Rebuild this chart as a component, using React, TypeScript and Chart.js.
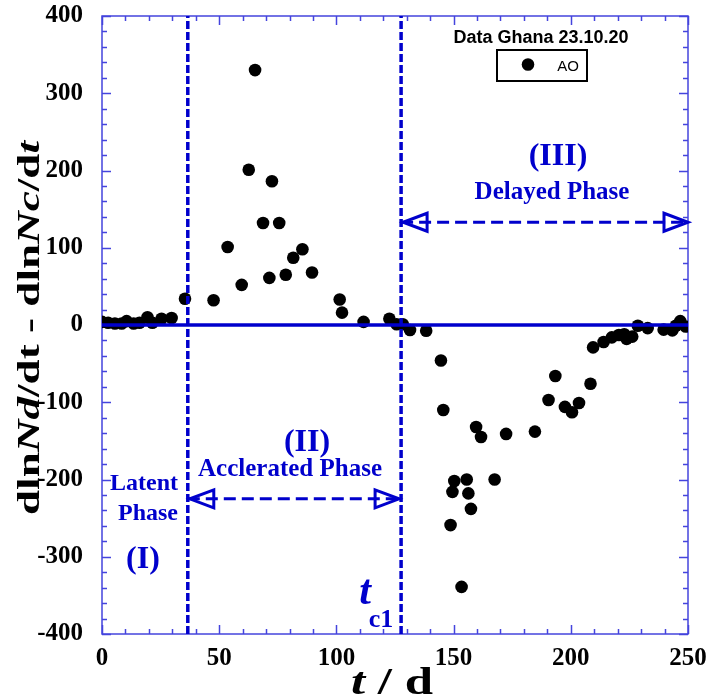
import React, { useEffect, useRef } from "react";
import { Chart, registerables } from "chart.js";

Chart.register(...registerables);

// ---- data ----
const tDays = [
  0, 2.6, 5.5, 8.4, 10.5, 13.5, 16, 19.4, 21.5, 25.4, 29.7, 35.4, 47.6, 53.6, 59.6,
  62.6, 65.3, 68.7, 71.4, 72.5, 75.6, 78.4, 81.6, 85.5, 89.6, 101.4, 102.4, 111.6,
  122.6, 125.7, 128.3, 131.4, 138.3, 144.6, 145.6, 148.7, 149.5, 150.3, 153.4, 155.6,
  156.3, 157.4, 159.6, 161.7, 167.5, 172.4, 184.7, 190.5, 193.4, 197.5, 200.5, 203.5,
  208.4, 209.5, 214.0, 217.5, 220.5, 222.8, 223.8, 226.2, 228.6, 232.8, 239.6, 243.3,
  244.8, 246.7, 249,
];
const aoValues = [
  4, 3, 2, 2, 5, 2, 3, 10, 3, 8, 9, 34, 32, 101, 52,
  201, 330, 132, 61, 186, 132, 65, 87, 98, 68, 33, 16, 4,
  8, 1, 1, -6.5, -7.5, -46, -110, -259, -216, -202, -339, -200,
  -218, -238, -132, -145, -200, -141, -138, -97, -66, -106, -113, -101,
  -76, -29, -22, -16, -13, -12, -18, -15, -1, -4, -6, -7,
  -1, 5, -2,
];
const seriesLabel = "AO";
const legendTitle = "Data Ghana 23.10.20";

const xMin = 0;
const xMax = 250;
const xStep = 50;
const xMinorStep = 10;
const yMin = -400;
const yMax = 400;
const yStep = 100;
const yMinorStep = 20;

const tLatentEnd = 36.6; // end of latent phase
const tc1 = 127.6; // t_c1
const arrowIIy = -225;
const arrowIIIy = 133;

// ---- styles ----
const BLUE = "#0000cc";
const AXIS = "#4444dd";
const SERIF = '"Liberation Serif", "Times New Roman", serif';
const SANS = '"Liberation Sans", Arial, sans-serif';

type Seg = [string, string];

function richWidth(ctx: CanvasRenderingContext2D, segs: Seg[]) {
  let total = 0;
  for (const [text, font] of segs) {
    ctx.font = font;
    total += ctx.measureText(text).width;
  }
  return total;
}

function drawRich(ctx: CanvasRenderingContext2D, segs: Seg[], x: number, y: number) {
  const total = richWidth(ctx, segs);
  let cx = x - total / 2;
  ctx.textAlign = "left";
  for (const [text, font] of segs) {
    ctx.font = font;
    ctx.fillText(text, cx, y);
    cx += ctx.measureText(text).width;
  }
}

function drawHead(ctx: CanvasRenderingContext2D, tipX: number, tipY: number, dir: number) {
  const L = 24;
  const H = 9;
  ctx.beginPath();
  ctx.moveTo(tipX + dir * L, tipY - H);
  ctx.lineTo(tipX, tipY);
  ctx.lineTo(tipX + dir * L, tipY + H);
  ctx.closePath();
  ctx.stroke();
}

const decor = {
  id: "decor",
  beforeDatasetsDraw(chart: any) {
    const { ctx, chartArea: a, scales } = chart;
    const x = scales.x;
    const y = scales.y;
    ctx.save();
    ctx.strokeStyle = AXIS;
    ctx.lineWidth = 1.5;
    ctx.beginPath();
    for (let v = xMin; v <= xMax; v += xMinorStep) {
      const px = Math.round(x.getPixelForValue(v)) + 0.5;
      const len = v % xStep === 0 ? 9 : 5;
      ctx.moveTo(px, a.bottom);
      ctx.lineTo(px, a.bottom - len);
      ctx.moveTo(px, a.top);
      ctx.lineTo(px, a.top + len);
    }
    for (let v = yMin; v <= yMax; v += yMinorStep) {
      const py = Math.round(y.getPixelForValue(v)) + 0.5;
      const len = v % yStep === 0 ? 9 : 5;
      ctx.moveTo(a.left, py);
      ctx.lineTo(a.left + len, py);
      ctx.moveTo(a.right, py);
      ctx.lineTo(a.right - len, py);
    }
    ctx.stroke();
    ctx.strokeRect(a.left, a.top, a.right - a.left, a.bottom - a.top);
    ctx.restore();
  },
  afterDraw(chart: any) {
    const { ctx, scales } = chart;
    const x = scales.x;
    const y = scales.y;
    ctx.save();

    // arrow heads
    ctx.strokeStyle = BLUE;
    ctx.lineWidth = 3;
    ctx.setLineDash([]);
    const yII = y.getPixelForValue(arrowIIy);
    drawHead(ctx, x.getPixelForValue(tLatentEnd) + 2, yII, 1);
    drawHead(ctx, x.getPixelForValue(tc1) - 2, yII, -1);
    const yIII = y.getPixelForValue(arrowIIIy);
    drawHead(ctx, x.getPixelForValue(tc1) + 2, yIII, 1);
    drawHead(ctx, x.getPixelForValue(xMax), yIII, -1);

    // phase annotations
    ctx.fillStyle = BLUE;
    ctx.textBaseline = "middle";
    const b = (s: number) => `bold ${s}px ${SERIF}`;
    const bi = (s: number) => `italic bold ${s}px ${SERIF}`;
    drawRich(ctx, [["(III)", b(32)]], 558, 157);
    drawRich(ctx, [["Delayed Phase", b(25)]], 552, 193);
    drawRich(ctx, [["(II)", b(32)]], 307, 443);
    drawRich(ctx, [["Acclerated Phase", b(25)]], 290, 470);
    drawRich(ctx, [["Latent", b(24)]], 144, 484);
    drawRich(ctx, [["Phase", b(24)]], 148, 514);
    drawRich(ctx, [["(I)", b(32)]], 143, 560);
    ctx.textBaseline = "alphabetic";
    drawRich(ctx, [["t", bi(42)]], 365, 604);
    drawRich(ctx, [["c1", b(26)]], 381, 627);

    // legend
    ctx.fillStyle = "#000";
    ctx.textBaseline = "middle";
    drawRich(ctx, [[legendTitle, `bold 18px ${SANS}`]], 541, 38);
    ctx.strokeStyle = "#000";
    ctx.lineWidth = 2;
    ctx.strokeRect(497, 50, 90, 31);
    ctx.beginPath();
    ctx.arc(528, 64.5, 6.3, 0, Math.PI * 2);
    ctx.fill();
    drawRich(ctx, [[seriesLabel, `15px ${SANS}`]], 568, 67);

    // x axis title
    ctx.textBaseline = "alphabetic";
    const xt: Seg[] = [["t", bi(38)], [" / d", b(38)]];
    ctx.save();
    ctx.translate(392, 694);
    ctx.scale(82 / richWidth(ctx, xt), 1);
    drawRich(ctx, xt, 0, 0);
    ctx.restore();

    // y axis title (stretched along its length)
    const ys = 32;
    const yt: Seg[] = [
      ["dln", b(ys)],
      ["Nd", bi(ys)],
      ["/dt - dln", b(ys)],
      ["Nc", bi(ys)],
      ["/d", b(ys)],
      ["t", bi(ys)],
    ];
    ctx.save();
    ctx.translate(39, 328);
    ctx.rotate(-Math.PI / 2);
    ctx.scale(374 / richWidth(ctx, yt), 1);
    drawRich(ctx, yt, 0, 0);
    ctx.restore();

    ctx.restore();
  },
};

export default function App() {
  const ref = useRef<HTMLCanvasElement>(null);

  useEffect(() => {
    const canvas = ref.current;
    if (!canvas) return;
    const points = tDays.map((t, i) => ({ x: t, y: aoValues[i] }));
    const lineBase = {
      type: "line" as const,
      showLine: true,
      pointRadius: 0,
      borderColor: BLUE,
      fill: false,
      order: 0,
    };
    const chart = new Chart(canvas, {
      type: "scatter",
      data: {
        datasets: [
          {
            label: seriesLabel,
            data: points,
            pointRadius: 6.3,
            pointBackgroundColor: "#000",
            pointBorderColor: "#000",
            pointBorderWidth: 0,
            order: 2,
          } as any,
          {
            ...lineBase,
            label: "zero",
            data: [
              { x: xMin, y: 0 },
              { x: xMax, y: 0 },
            ],
            borderWidth: 3.5,
          },
          {
            ...lineBase,
            label: "latent end",
            data: [
              { x: tLatentEnd, y: yMin },
              { x: tLatentEnd, y: yMax },
            ],
            borderWidth: 3.5,
            borderDash: [8, 3],
          },
          {
            ...lineBase,
            label: "tc1",
            data: [
              { x: tc1, y: yMin },
              { x: tc1, y: yMax },
            ],
            borderWidth: 3.5,
            borderDash: [8, 3],
          },
          {
            ...lineBase,
            label: "arrow II",
            data: [
              { x: tLatentEnd, y: arrowIIy },
              { x: tc1, y: arrowIIy },
            ],
            borderWidth: 3,
            borderDash: [12, 6],
          },
          {
            ...lineBase,
            label: "arrow III",
            data: [
              { x: tc1, y: arrowIIIy },
              { x: xMax, y: arrowIIIy },
            ],
            borderWidth: 3,
            borderDash: [12, 6],
          },
        ],
      },
      options: {
        responsive: false,
        animation: false,
        layout: { padding: { top: 16, right: 22, left: 0, bottom: 0 } },
        plugins: {
          legend: { display: false },
          tooltip: { enabled: false },
        },
        scales: {
          x: {
            type: "linear",
            min: xMin,
            max: xMax,
            afterFit: (s: any) => {
              s.height = 63;
              s.paddingLeft = 0;
              s.paddingRight = 0;
            },
            ticks: {
              stepSize: xStep,
              color: "#000",
              padding: 10,
              maxRotation: 0,
              autoSkip: false,
              font: { family: SERIF, size: 25, weight: "bold" },
            },
            grid: { display: false, drawTicks: false },
            border: { display: false },
          },
          y: {
            type: "linear",
            min: yMin,
            max: yMax,
            afterFit: (s: any) => {
              s.width = 102;
              s.paddingTop = 0;
              s.paddingBottom = 0;
            },
            ticks: {
              stepSize: yStep,
              color: "#000",
              padding: 19,
              autoSkip: false,
              font: { family: SERIF, size: 25, weight: "bold" },
            },
            grid: { display: false, drawTicks: false },
            border: { display: false },
          },
        },
      } as any,
      plugins: [decor],
    });
    return () => chart.destroy();
  }, []);

  return (
    <div
      style={{
        position: "absolute",
        left: 0,
        top: 0,
        width: 710,
        height: 697,
        background: "#fff",
      }}
    >
      <canvas ref={ref} width={710} height={697} style={{ display: "block" }} />
    </div>
  );
}
